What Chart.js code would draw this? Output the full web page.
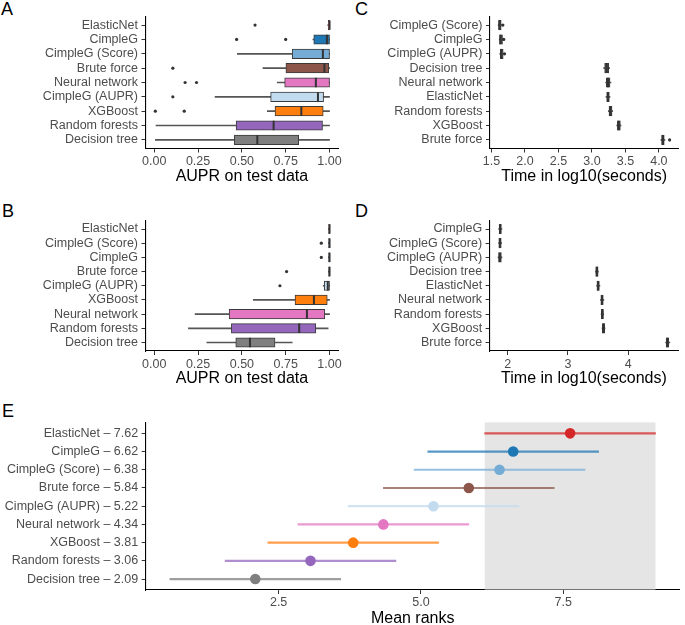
<!DOCTYPE html>
<html><head><meta charset="utf-8">
<script src="https://cdn.jsdelivr.net/npm/chart.js@4/dist/chart.umd.min.js"></script>
<style>
html,body{margin:0;padding:0;background:#fff;overflow:hidden;width:685px;height:625px;position:relative;}
canvas{position:absolute;}
.lab{position:absolute;font:18px "Liberation Sans",Arial,sans-serif;color:#000;line-height:18px;}
</style></head><body>
<div class="lab" style="left:1px;top:0px">A</div>
<div class="lab" style="left:2px;top:202px">B</div>
<div class="lab" style="left:355px;top:0px">C</div>
<div class="lab" style="left:355px;top:202px">D</div>
<div class="lab" style="left:2px;top:402px">E</div>
<canvas id="cA" width="345" height="192" style="left:0;top:0"></canvas>
<canvas id="cB" width="345" height="192" style="left:0;top:200px"></canvas>
<canvas id="cC" width="340" height="192" style="left:345px;top:0"></canvas>
<canvas id="cD" width="340" height="192" style="left:345px;top:200px"></canvas>
<canvas id="cE" width="685" height="232" style="left:0;top:400px"></canvas>
<script>
// ---------- Panel A: AUPR on test data ----------
const catsA = ["ElasticNet","CimpleG","CimpleG (Score)","Brute force","Neural network","CimpleG (AUPR)","XGBoost","Random forests","Decision tree"];
const loA  = [0.990, 0.905, 0.474, 0.620, 0.702, 0.347, 0.645, 0.010, 0.006];
const q1A  = [0.993, 0.910, 0.787, 0.751, 0.744, 0.664, 0.689, 0.467, 0.457];
const medA = [1.000, 0.985, 0.962, 0.971, 0.922, 0.934, 0.839, 0.681, 0.588];
const q3A  = [1.000, 1.000, 1.000, 0.996, 1.000, 0.966, 0.964, 0.960, 0.824];
const hiA  = [1.000, 1.000, 1.000, 1.000, 1.000, 1.000, 1.000, 1.000, 1.000];
const outA = [[0.575],[0.47,0.75],[],[0.106],[0.176,0.241],[0.106],[0.006,0.171],[],[]];

// ---------- Panel B: AUPR on test data ----------
const catsB = ["ElasticNet","CimpleG (Score)","CimpleG","Brute force","CimpleG (AUPR)","XGBoost","Neural network","Random forests","Decision tree"];
const loB  = [0.993, 0.993, 0.993, 0.993, 0.964, 0.565, 0.233, 0.195, 0.300];
const q1B  = [0.995, 0.995, 0.995, 0.995, 0.970, 0.803, 0.427, 0.440, 0.465];
const medB = [1.000, 1.000, 1.000, 1.000, 0.990, 0.911, 0.871, 0.827, 0.546];
const q3B  = [1.000, 1.000, 1.000, 1.000, 1.000, 0.987, 0.973, 0.922, 0.689];
const hiB  = [1.000, 1.000, 1.000, 1.000, 1.000, 1.000, 1.000, 0.992, 0.787];
const outB = [[],[0.953],[0.953],[0.755],[0.717],[],[],[],[]];

// ---------- Panel C: time, log10(seconds) ----------
const catsC = ["CimpleG (Score)","CimpleG","CimpleG (AUPR)","Decision tree","Neural network","ElasticNet","Random forests","XGBoost","Brute force"];
const loC  = [1.600, 1.615, 1.625, 3.175, 3.205, 3.210, 3.245, 3.370, 4.030];
const q1C  = [1.606, 1.620, 1.630, 3.190, 3.215, 3.220, 3.255, 3.380, 4.040];
const medC = [1.620, 1.635, 1.645, 3.220, 3.240, 3.240, 3.275, 3.400, 4.060];
const q3C  = [1.645, 1.665, 1.675, 3.250, 3.270, 3.260, 3.300, 3.425, 4.080];
const hiC  = [1.650, 1.670, 1.680, 3.265, 3.285, 3.270, 3.310, 3.435, 4.090];
const outC = [[1.670],[1.683],[1.695],[],[],[],[],[],[4.160]];

// ---------- Panel D: time, log10(seconds) ----------
const catsD = ["CimpleG","CimpleG (Score)","CimpleG (AUPR)","Decision tree","ElasticNet","Neural network","Random forests","XGBoost","Brute force"];
const loD  = [1.850, 1.850, 1.840, 3.455, 3.475, 3.540, 3.550, 3.565, 4.620];
const q1D  = [1.858, 1.855, 1.848, 3.460, 3.480, 3.545, 3.553, 3.570, 4.628];
const medD = [1.875, 1.870, 1.870, 3.480, 3.500, 3.565, 3.570, 3.590, 4.650];
const q3D  = [1.895, 1.893, 1.895, 3.500, 3.520, 3.585, 3.588, 3.610, 4.672];
const hiD  = [1.905, 1.900, 1.905, 3.505, 3.530, 3.595, 3.592, 3.615, 4.690];
const outD = [[],[],[],[],[],[],[],[],[]];

// ---------- Panel E: mean ranks ----------
const catsE  = ["ElasticNet","CimpleG","CimpleG (Score)","Brute force","CimpleG (AUPR)","Neural network","XGBoost","Random forests","Decision tree"];
const meanE  = [7.62, 6.62, 6.38, 5.84, 5.22, 4.34, 3.81, 3.06, 2.09];
const lowE   = [6.12, 5.12, 4.88, 4.34, 3.72, 2.84, 2.31, 1.56, 0.59];
const upE    = [9.12, 8.12, 7.88, 7.34, 6.72, 5.84, 5.31, 4.56, 3.59];

// tick labels
const ticksAB = [0, 0.25, 0.5, 0.75, 1];
const ticksC  = [1.5, 2.0, 2.5, 3.0, 3.5, 4.0];
const ticksD  = [2, 3, 4];
const ticksE  = [2.5, 5.0, 7.5];

// ---------- styling ----------
const methodColor = {
  "ElasticNet":"#d62728","CimpleG":"#1f77b4","CimpleG (Score)":"#74acd6","Brute force":"#8c564b",
  "CimpleG (AUPR)":"#c3dbee","Neural network":"#e377c2","XGBoost":"#ff7f0e","Random forests":"#9467bd","Decision tree":"#7f7f7f"
};
const FONT = '"Liberation Sans", Arial, Helvetica, sans-serif';
const TICK = 12.5;
Chart.defaults.font.family = FONT;
Chart.defaults.animation = false;
Chart.defaults.responsive = false;
Chart.defaults.devicePixelRatio = 1;
Chart.defaults.plugins.legend.display = false;
Chart.defaults.plugins.tooltip.enabled = false;

function hexA(hex, a){
  const n = parseInt(hex.slice(1),16);
  return `rgba(${(n>>16)&255},${(n>>8)&255},${n&255},${a})`;
}

function scalesFor(cfg, labels){
  return {
    x: {
      type:'linear', min:cfg.xmin, max:cfg.xmax, offset:false,
      afterBuildTicks: s => { s.ticks = cfg.xticks.map(v => ({value:v})); },
      afterFit: s => { s.height = cfg.xh; },
      ticks:{ callback: v => cfg.fmt(v), font:{size:TICK}, color:'#4d4d4d', padding:cfg.xpad ?? 2, maxRotation:0, autoSkip:false },
      grid:{ display:true, drawOnChartArea:false, drawTicks:true, tickLength:4, color:'#333', lineWidth:1, offset:false },
      border:{ display:true, color:'#000', width:1.1 },
      title:{ display:true, text:cfg.title, font:{size:16}, color:'#000', padding:{top:0, bottom:cfg.tpb} }
    },
    y: {
      type:'linear', reverse:true, min:-0.6, max:labels.length-1+0.6, offset:false,
      afterBuildTicks: s => { s.ticks = labels.map((c,i) => ({value:i})); },
      afterFit: s => { s.width = cfg.yw; },
      ticks:{ callback: v => labels[v], font:{size:TICK}, color:'#4d4d4d', padding:3.5, autoSkip:false },
      grid:{ display:true, drawOnChartArea:false, drawTicks:true, tickLength:4, color:'#333', lineWidth:1, offset:false },
      border:{ display:true, color:'#000', width:1.1 }
    }
  };
}

function boxChart(id, cats, lo, q1, med, q3, hi, outs, cfg){
  const fills = cats.map(c => cfg.dark ? '#555555' : methodColor[c]);
  new Chart(document.getElementById(id), {
    type:'bar',
    data:{ datasets:[
      { type:'scatter', data: outs.flatMap((arr,i) => arr.map(v => ({x:v, y:i}))),
        pointRadius:1.6, pointBackgroundColor:'#333', pointBorderWidth:0 },
      { type:'scatter', data: med.map((v,i) => ({x:v, y:i})),
        pointStyle:'line', rotation:90, pointRadius:4.7, pointBorderColor:'#333', pointBorderWidth:2 },
      { type:'bar', data: q1.map((v,i) => ({x:[v, q3[i]], y:i})),
        backgroundColor: fills, borderColor:'#3a3a3a', borderWidth:1, borderSkipped:false,
        barThickness:9.5, grouped:false },
      { type:'bar', data: lo.map((v,i) => ({x:[v, hi[i]], y:i})),
        backgroundColor:'#555', borderWidth:0, barThickness:1, grouped:false }
    ]},
    options:{
      indexAxis:'y',
      layout:{ padding:{ top:cfg.top, right:cfg.right, left:0, bottom:0 } },
      scales: scalesFor(cfg, cats)
    }
  });
}

boxChart('cA', catsA, loA, q1A, medA, q3A, hiA, outA,
  {xmin:-0.05, xmax:1.05, xticks:ticksAB, fmt:v=>v.toFixed(2), title:'AUPR on test data', xh:43.5, tpb:6.0, yw:145.5, top:16.5, right:6.2});
boxChart('cB', catsB, loB, q1B, medB, q3B, hiB, outB,
  {xmin:-0.05, xmax:1.05, xticks:ticksAB, fmt:v=>v.toFixed(2), title:'AUPR on test data', xh:41, tpb:3.8, yw:145.5, top:20.5, right:6.2});
boxChart('cC', catsC, loC, q1C, medC, q3C, hiC, outC,
  {xmin:1.478, xmax:4.29, xticks:ticksC, fmt:v=>v.toFixed(1), title:'Time in log10(seconds)', xh:43.5, tpb:6.0, yw:145, top:16.5, right:1, dark:true});
boxChart('cD', catsD, loD, q1D, medD, q3D, hiD, outD,
  {xmin:1.70, xmax:4.83, xticks:ticksD, fmt:v=>String(v), title:'Time in log10(seconds)', xh:41, tpb:3.8, yw:144.6, top:20.5, right:0.7, dark:true});

// ---------- Panel E ----------
const labelsE = catsE.map((c,i) => c + ' \u2013 ' + meanE[i].toFixed(2));
const shadePlugin = {
  id:'shade',
  beforeDatasetsDraw(chart){
    const {ctx, chartArea, scales:{x}} = chart;
    const x0 = x.getPixelForValue(lowE[0]), x1 = x.getPixelForValue(upE[0]);
    ctx.save();
    ctx.fillStyle = '#e5e5e5';
    ctx.fillRect(x0, chartArea.top, x1 - x0, chartArea.bottom - chartArea.top - 0.5);
    ctx.restore();
  }
};
new Chart(document.getElementById('cE'), {
  type:'bar',
  data:{ datasets:[
    { type:'scatter', data: meanE.map((v,i) => ({x:v, y:i})),
      pointRadius:5.3, pointBackgroundColor: catsE.map(c => methodColor[c]), pointBorderWidth:0 },
    { type:'bar', data: lowE.map((v,i) => ({x:[v, upE[i]], y:i})),
      backgroundColor: catsE.map(c => hexA(methodColor[c], 0.75)), borderWidth:0, barThickness:1.5, grouped:false }
  ]},
  options:{
    indexAxis:'y',
    layout:{ padding:{ top:22.4, right:0, left:0, bottom:0 } },
    scales: scalesFor({xmin:0.165, xmax:9.545, xticks:ticksE, fmt:v=>v.toFixed(1), title:'Mean ranks', xh:42, tpb:4.1, yw:145.7, xpad:1}, labelsE)
  },
  plugins:[shadePlugin]
});
</script>
</body></html>
